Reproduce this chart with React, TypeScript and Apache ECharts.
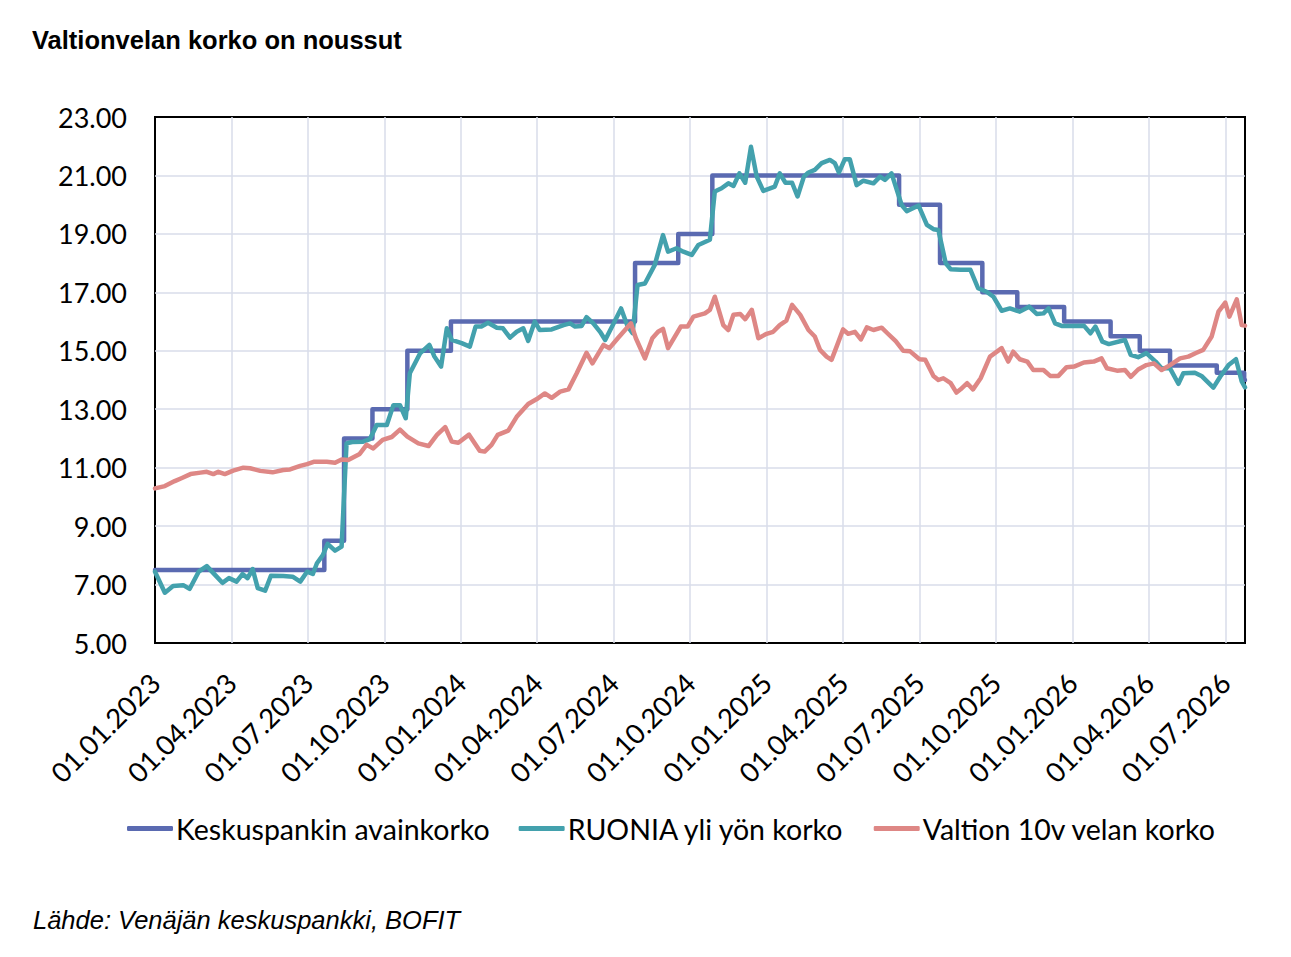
import { useEffect, useRef } from "react";
import * as echarts from "echarts";

// Keskuspankin avainkorko: päätöspäivä ja uusi taso
const keyRate: [string, number][] = [
  ["2023-01-01", 7.5], ["2023-07-21", 8.5], ["2023-08-14", 12], ["2023-09-17", 13],
  ["2023-10-29", 15], ["2023-12-20", 16], ["2024-07-27", 18], ["2024-09-17", 19],
  ["2024-10-28", 21], ["2025-06-07", 20], ["2025-07-26", 18], ["2025-09-15", 17],
  ["2025-10-27", 16.5], ["2025-12-22", 16], ["2026-02-15", 15.5], ["2026-03-21", 15],
  ["2026-04-26", 14.5], ["2026-06-21", 14.25], ["2026-07-24", 14.0], ["2026-07-25", 14.0],
];

const ruonia: [string, number][] = [
  ["2023-01-01", 7.44], ["2023-01-13", 6.72], ["2023-01-23", 6.95], ["2023-02-04", 6.98],
  ["2023-02-11", 6.85], ["2023-02-21", 7.44], ["2023-03-02", 7.63], ["2023-03-12", 7.33],
  ["2023-03-21", 7.06], ["2023-03-29", 7.22], ["2023-04-07", 7.1], ["2023-04-14", 7.36],
  ["2023-04-20", 7.22], ["2023-04-26", 7.53], ["2023-05-02", 6.88], ["2023-05-11", 6.79],
  ["2023-05-18", 7.3], ["2023-06-02", 7.29], ["2023-06-13", 7.27], ["2023-06-22", 7.1],
  ["2023-06-30", 7.44], ["2023-07-07", 7.36], ["2023-07-12", 7.73], ["2023-07-19", 8.0],
  ["2023-07-25", 8.39], ["2023-08-03", 8.16], ["2023-08-11", 8.3], ["2023-08-17", 11.83],
  ["2023-08-24", 11.88], ["2023-09-06", 11.89], ["2023-09-14", 11.98], ["2023-09-22", 12.46],
  ["2023-10-04", 12.46], ["2023-10-12", 13.14], ["2023-10-20", 13.14], ["2023-10-27", 12.69],
  ["2023-11-01", 14.23], ["2023-11-13", 14.91], ["2023-11-24", 15.2], ["2023-11-30", 14.8],
  ["2023-12-08", 14.46], ["2023-12-15", 15.77], ["2023-12-21", 15.37], ["2024-01-02", 15.26],
  ["2024-01-12", 15.14], ["2024-01-19", 15.83], ["2024-01-26", 15.83], ["2024-02-03", 15.96],
  ["2024-02-13", 15.79], ["2024-02-20", 15.77], ["2024-02-28", 15.45], ["2024-03-07", 15.65],
  ["2024-03-15", 15.77], ["2024-03-21", 15.34], ["2024-03-29", 16.0], ["2024-04-04", 15.71],
  ["2024-04-18", 15.73], ["2024-05-02", 15.88], ["2024-05-10", 15.94], ["2024-05-16", 15.83],
  ["2024-05-24", 15.85], ["2024-05-30", 16.15], ["2024-06-07", 15.94], ["2024-06-15", 15.65],
  ["2024-06-21", 15.37], ["2024-06-30", 15.88], ["2024-07-10", 16.45], ["2024-07-18", 15.83],
  ["2024-07-24", 15.6], ["2024-07-30", 17.25], ["2024-08-08", 17.3], ["2024-08-20", 17.94],
  ["2024-08-30", 18.96], ["2024-09-05", 18.39], ["2024-09-15", 18.51], ["2024-09-23", 18.39],
  ["2024-10-03", 18.28], ["2024-10-11", 18.62], ["2024-10-25", 18.8], ["2024-10-31", 20.45],
  ["2024-11-08", 20.56], ["2024-11-16", 20.73], ["2024-11-22", 20.64], ["2024-11-29", 21.07],
  ["2024-12-06", 20.75], ["2024-12-13", 21.98], ["2024-12-20", 20.96], ["2024-12-28", 20.47],
  ["2025-01-11", 20.62], ["2025-01-17", 21.07], ["2025-01-24", 20.75], ["2025-02-01", 20.75],
  ["2025-02-07", 20.28], ["2025-02-14", 20.96], ["2025-02-19", 21.1], ["2025-02-26", 21.19],
  ["2025-03-06", 21.42], ["2025-03-16", 21.53], ["2025-03-22", 21.42], ["2025-03-27", 21.1],
  ["2025-04-03", 21.55], ["2025-04-09", 21.55], ["2025-04-17", 20.67], ["2025-04-25", 20.82],
  ["2025-05-07", 20.73], ["2025-05-15", 20.96], ["2025-05-21", 20.85], ["2025-05-29", 21.07],
  ["2025-06-10", 19.99], ["2025-06-16", 19.78], ["2025-06-30", 19.97], ["2025-07-10", 19.31],
  ["2025-07-18", 19.16], ["2025-07-24", 19.13], ["2025-08-02", 17.99], ["2025-08-08", 17.79],
  ["2025-08-20", 17.77], ["2025-09-01", 17.77], ["2025-09-10", 17.14], ["2025-09-20", 17.02],
  ["2025-09-28", 16.85], ["2025-10-08", 16.37], ["2025-10-18", 16.45], ["2025-10-30", 16.34],
  ["2025-11-10", 16.51], ["2025-11-19", 16.26], ["2025-11-27", 16.28], ["2025-12-03", 16.45],
  ["2025-12-11", 15.94], ["2025-12-19", 15.85], ["2025-12-31", 15.85], ["2026-01-15", 15.86],
  ["2026-01-23", 15.6], ["2026-01-29", 15.83], ["2026-02-06", 15.31], ["2026-02-13", 15.23],
  ["2026-03-03", 15.37], ["2026-03-10", 14.86], ["2026-03-19", 14.78], ["2026-03-29", 14.92],
  ["2026-04-09", 14.63], ["2026-04-16", 14.4], ["2026-04-26", 14.4], ["2026-05-06", 13.87],
  ["2026-05-12", 14.23], ["2026-05-26", 14.25], ["2026-06-03", 14.14], ["2026-06-17", 13.74],
  ["2026-06-25", 14.11], ["2026-07-05", 14.51], ["2026-07-14", 14.71], ["2026-07-21", 13.95],
  ["2026-07-25", 13.75],
];

const bond10y: [string, number][] = [
  ["2023-01-01", 10.29], ["2023-01-13", 10.37], ["2023-01-25", 10.54], ["2023-02-02", 10.64],
  ["2023-02-12", 10.78], ["2023-02-23", 10.83], ["2023-03-02", 10.86], ["2023-03-10", 10.78],
  ["2023-03-16", 10.86], ["2023-03-24", 10.78], ["2023-04-03", 10.9], ["2023-04-15", 11.0],
  ["2023-04-23", 10.98], ["2023-05-05", 10.89], ["2023-05-20", 10.84], ["2023-06-02", 10.92],
  ["2023-06-10", 10.94], ["2023-06-22", 11.06], ["2023-06-30", 11.12], ["2023-07-08", 11.2],
  ["2023-07-24", 11.2], ["2023-08-03", 11.17], ["2023-08-11", 11.28], ["2023-08-19", 11.26],
  ["2023-09-02", 11.47], ["2023-09-10", 11.78], ["2023-09-18", 11.66], ["2023-09-29", 11.95],
  ["2023-10-10", 12.05], ["2023-10-20", 12.3], ["2023-10-29", 12.06], ["2023-11-11", 11.83],
  ["2023-11-23", 11.74], ["2023-12-03", 12.12], ["2023-12-13", 12.39], ["2023-12-21", 11.89],
  ["2023-12-29", 11.85], ["2024-01-11", 12.13], ["2024-01-24", 11.58], ["2024-01-30", 11.55],
  ["2024-02-07", 11.78], ["2024-02-14", 12.12], ["2024-02-26", 12.27], ["2024-03-07", 12.74],
  ["2024-03-21", 13.18], ["2024-03-31", 13.34], ["2024-04-10", 13.54], ["2024-04-18", 13.39],
  ["2024-04-28", 13.6], ["2024-05-08", 13.68], ["2024-05-18", 14.23], ["2024-05-30", 14.93],
  ["2024-06-06", 14.57], ["2024-06-19", 15.2], ["2024-06-26", 15.09], ["2024-07-06", 15.43],
  ["2024-07-22", 15.94], ["2024-07-28", 15.43], ["2024-08-08", 14.74], ["2024-08-17", 15.43],
  ["2024-08-24", 15.65], ["2024-08-30", 15.75], ["2024-09-05", 15.09], ["2024-09-20", 15.83],
  ["2024-09-28", 15.83], ["2024-10-05", 16.17], ["2024-10-19", 16.28], ["2024-10-25", 16.4],
  ["2024-10-31", 16.85], ["2024-11-10", 15.88], ["2024-11-16", 15.71], ["2024-11-22", 16.23],
  ["2024-11-30", 16.26], ["2024-12-06", 16.08], ["2024-12-14", 16.4], ["2024-12-22", 15.43],
  ["2025-01-01", 15.58], ["2025-01-09", 15.65], ["2025-01-17", 15.88], ["2025-01-25", 16.03],
  ["2025-02-01", 16.57], ["2025-02-10", 16.23], ["2025-02-19", 15.71], ["2025-02-26", 15.49],
  ["2025-03-04", 15.03], ["2025-03-12", 14.8], ["2025-03-18", 14.69], ["2025-03-25", 15.2],
  ["2025-04-01", 15.73], ["2025-04-07", 15.58], ["2025-04-15", 15.65], ["2025-04-22", 15.39],
  ["2025-04-29", 15.8], ["2025-05-07", 15.71], ["2025-05-17", 15.79], ["2025-05-24", 15.6],
  ["2025-06-03", 15.33], ["2025-06-12", 15.0], ["2025-06-20", 14.98], ["2025-07-01", 14.71],
  ["2025-07-08", 14.69], ["2025-07-18", 14.14], ["2025-07-24", 14.0], ["2025-07-30", 14.06],
  ["2025-08-08", 13.89], ["2025-08-15", 13.57], ["2025-08-20", 13.68], ["2025-08-28", 13.89],
  ["2025-09-04", 13.68], ["2025-09-13", 14.06], ["2025-09-24", 14.8], ["2025-10-08", 15.09],
  ["2025-10-16", 14.63], ["2025-10-22", 14.97], ["2025-10-30", 14.71], ["2025-11-08", 14.63],
  ["2025-11-15", 14.34], ["2025-11-27", 14.34], ["2025-12-05", 14.14], ["2025-12-15", 14.14],
  ["2025-12-25", 14.44], ["2026-01-03", 14.46], ["2026-01-15", 14.6], ["2026-01-27", 14.63],
  ["2026-02-05", 14.74], ["2026-02-11", 14.4], ["2026-02-22", 14.32], ["2026-03-03", 14.34],
  ["2026-03-10", 14.11], ["2026-03-19", 14.36], ["2026-03-29", 14.51], ["2026-04-07", 14.57],
  ["2026-04-16", 14.34], ["2026-04-26", 14.51], ["2026-05-08", 14.74], ["2026-05-18", 14.8],
  ["2026-05-28", 14.93], ["2026-06-05", 15.03], ["2026-06-15", 15.49], ["2026-06-23", 16.34],
  ["2026-07-01", 16.65], ["2026-07-06", 16.17], ["2026-07-15", 16.76], ["2026-07-21", 15.88],
  ["2026-07-25", 15.86],
];

const seriesNames = ["Keskuspankin avainkorko", "RUONIA yli yön korko", "Valtion 10v velan korko"];
const seriesColors = ["#5a6ab1", "#43a1ad", "#de8785"];

const startYear = 2023;
const axisEnd = "2026-07-25";

// Excel-tyylinen kuukausiakseli: jokainen kuukausi yhtä leveä
function monthIndex(d: string) {
  const [y, m, day] = d.split("-").map(Number);
  const dim = new Date(y, m, 0).getDate();
  return (y - startYear) * 12 + (m - 1) + (day - 1) / dim;
}

function monthLabel(v: number) {
  const r = Math.round(v);
  if (Math.abs(v - r) > 1e-6 || r % 3 !== 0) return "";
  const mo = (r % 12) + 1;
  return `01.${mo < 10 ? "0" + mo : mo}.${startYear + Math.floor(r / 12)}`;
}

const toPoints = (rows: [string, number][]) => rows.map(([d, v]) => [monthIndex(d), v]);

const labelFont = "Lato, 'Noto Sans', sans-serif";
const textFont = "'Liberation Sans', Arial, sans-serif";

export default function App() {
  const ref = useRef<HTMLDivElement>(null);

  useEffect(() => {
    document.body.style.margin = "0";
    if (!ref.current) return;
    const chart = echarts.init(ref.current, undefined, { renderer: "svg" });
    const lineStyle = (i: number) => ({ width: 4.5, color: seriesColors[i], join: "round" as const, cap: "round" as const });
    chart.setOption({
      animation: false,
      backgroundColor: "#ffffff",
      title: [
        {
          text: "Valtionvelan korko on noussut",
          left: 27,
          top: 22,
          textStyle: { fontFamily: textFont, fontWeight: "bold", fontSize: 25.5, color: "#000" },
        },
        {
          text: "Lähde: Venäjän keskuspankki, BOFIT",
          left: 28,
          top: 902,
          textStyle: { fontFamily: textFont, fontStyle: "italic", fontWeight: "normal", fontSize: 25.5, color: "#000" },
        },
      ],
      legend: {
        left: 122,
        top: 809,
        itemWidth: 46,
        itemHeight: 5,
        itemGap: 29,
        icon: "roundRect",
        textStyle: { fontFamily: labelFont, fontSize: 28.5, color: "#000", padding: [0, 0, 0, -2] },
        data: seriesNames,
      },
      grid: { left: 155, right: 46, top: 117, bottom: 314, show: true, borderColor: "#000", borderWidth: 2, backgroundColor: "transparent" },
      xAxis: {
        type: "value",
        min: 0,
        max: monthIndex(axisEnd),
        interval: 3,
        axisLine: { show: false },
        axisTick: { show: false },
        axisLabel: { rotate: 45, margin: 35, fontFamily: labelFont, fontSize: 27.5, color: "#000", formatter: monthLabel, showMaxLabel: false },
        splitLine: { show: true, showMinLine: false, showMaxLine: false, lineStyle: { color: "#d9dcea", width: 1.5 } },
      },
      yAxis: {
        type: "value",
        min: 5,
        max: 23,
        interval: 2,
        axisLine: { show: false },
        axisTick: { show: false },
        axisLabel: { margin: 28, fontFamily: labelFont, fontSize: 27, color: "#000", formatter: (v: number) => v.toFixed(2) },
        splitLine: { show: true, showMinLine: false, showMaxLine: false, lineStyle: { color: "#d9dcea", width: 1.5 } },
      },
      series: [
        { name: seriesNames[0], type: "line", step: "end", data: toPoints(keyRate), showSymbol: false, symbol: "none", lineStyle: lineStyle(0), itemStyle: { color: seriesColors[0] } },
        { name: seriesNames[1], type: "line", data: toPoints(ruonia), showSymbol: false, symbol: "none", lineStyle: lineStyle(1), itemStyle: { color: seriesColors[1] } },
        { name: seriesNames[2], type: "line", data: toPoints(bond10y), showSymbol: false, symbol: "none", lineStyle: lineStyle(2), itemStyle: { color: seriesColors[2] } },
      ],
    });
    return () => chart.dispose();
  }, []);

  return <div ref={ref} style={{ width: 1291, height: 957 }} />;
}
